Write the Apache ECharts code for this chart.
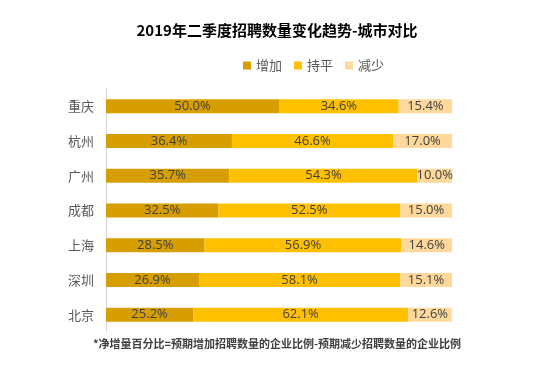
<!DOCTYPE html>
<html><head><meta charset="utf-8">
<script src="https://cdn.jsdelivr.net/npm/echarts@6/dist/echarts.min.js"></script>
<style>html,body{margin:0;padding:0;background:#fff}#c{width:554px;height:372px}</style>
</head><body><div id="c"></div>
<script>
const cities = ['重庆','杭州','广州','成都','上海','深圳','北京'];
const increase = [50.0, 36.4, 35.7, 32.5, 28.5, 26.9, 25.2];
const flat = [34.6, 46.6, 54.3, 52.5, 56.9, 58.1, 62.1];
const decrease = [15.4, 17.0, 10.0, 15.0, 14.6, 15.1, 12.6];
const seriesNames = ['增加','持平','减少'];
const colors = ['#D69E00','#FFC000','#FFD89B'];
const font = '"Noto Sans CJK SC", "Microsoft YaHei", sans-serif';
const chart = echarts.init(document.getElementById('c'));
const mk = (name, data, color) => ({
  name, type: 'bar', stack: 'a', data, barWidth: 14,
  itemStyle: { color },
  label: { show: true, position: 'inside', formatter: p => p.value.toFixed(1) + '%',
    color: '#404040', fontSize: 13, fontFamily: '"Open Sans", "Noto Sans", sans-serif' }
});
chart.setOption({
  animation: false,
  title: { text: '2019年二季度招聘数量变化趋势-城市对比', left: 'center', top: 18,
    textStyle: { fontSize: 15, fontWeight: 'bold', color: '#000', fontFamily: font } },
  legend: { data: seriesNames, top: 54, left: 238, itemWidth: 8, itemHeight: 8, itemGap: 12,
    icon: 'rect', textStyle: { fontSize: 13, color: '#595959', fontFamily: font } },
  grid: { left: 106, right: 102, top: 89, bottom: 40, containLabel: false },
  xAxis: { type: 'value', min: 0, max: 100, show: false },
  yAxis: { type: 'category', data: cities, inverse: true,
    axisLine: { lineStyle: { color: '#D9D9D9' } }, axisTick: { show: false },
    axisLabel: { fontSize: 13, color: '#595959', margin: 12, fontFamily: font } },
  series: [mk(seriesNames[0], increase, colors[0]), mk(seriesNames[1], flat, colors[1]), mk(seriesNames[2], decrease, colors[2])],
  graphic: [{ type: 'text', left: 'center', top: 338,
    style: { text: '*净增量百分比=预期增加招聘数量的企业比例-预期减少招聘数量的企业比例',
      fontSize: 11, fontWeight: 'bold', fill: '#404040', fontFamily: font } }]
});
</script></body></html>
